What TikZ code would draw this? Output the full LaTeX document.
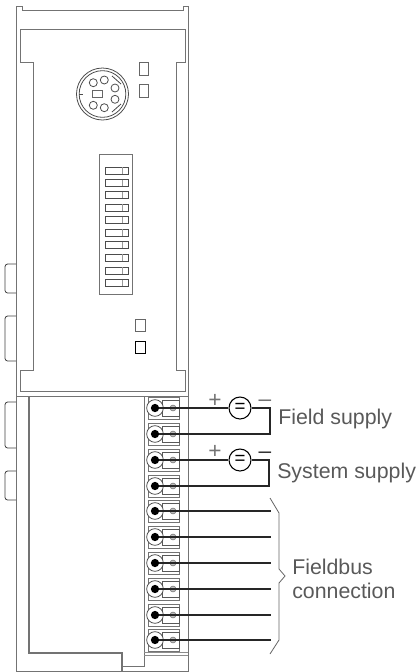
\documentclass[tikz,border=0pt]{standalone}
\usepackage{fontspec}
\setmainfont{Liberation Sans}
\usetikzlibrary{positioning}
\tikzset{
	wall/.style={draw=black!55, line width=0.7pt},
	thinwall/.style={draw=black!45, line width=0.6pt},
	tab/.style={draw=black!75, line width=0.6pt, rounded corners=2pt},
	led/.style={draw=black!60, line width=0.6pt, rectangle, minimum width=7pt, minimum height=9.5pt, inner sep=0pt},
	pin/.style={draw=black!70, line width=0.6pt, circle, minimum size=6pt, inner sep=0pt},
	ring/.style={draw=black!70, line width=0.6pt, circle, minimum size=12.5pt, inner sep=0pt, fill=white},
	hole/.style={fill=black, circle, minimum size=6.2pt, inner sep=0pt},
	screw/.style={draw=black!50, fill=black!25, line width=0.5pt, circle, minimum size=4.4pt, inner sep=0pt},
	supply/.style={draw=black, line width=0.8pt, circle, minimum size=16.5pt, inner sep=0pt, fill=white, font=\fontsize{14}{14}\selectfont},
	wire/.style={draw=black!85, line width=0.8pt},
	sign/.style={inner sep=0pt, text=black!55, font=\fontsize{17}{17}\selectfont},
	label/.style={inner sep=0pt, anchor=west, align=left, text=black!65, font=\fontsize{16}{18.5}\selectfont},
}
\begin{document}
\begin{tikzpicture}[x=0.75pt, y=-0.75pt]
		\useasboundingbox (0, 0) rectangle (418, 672);
		% Housing
		\draw [wall] (16, 671)--(16, 6)--(22, 6)--(22, 10)--(183, 10)--(183, 6)--(188, 6)--(188, 671)--cycle;
		\draw [wall] (16, 396)--(188, 396);
		% Front panel
		\draw [wall] (20, 29)--(185, 29)--(185, 62)--(176, 62)--(176, 370)--(185, 370)--(185, 391)--(20, 391)--(20, 370)--(33, 370)--(33, 62)--(20, 62)--cycle;
		% Side tabs
		\draw [tab] (16, 264)--(5, 264)--(5, 293)--(16, 293);
		\draw [tab] (16, 316)--(5, 316)--(5, 361)--(16, 361);
		\draw [tab] (16, 402)--(5, 402)--(5, 448)--(16, 448);
		\draw [tab] (16, 471)--(5, 471)--(5, 500)--(16, 500);
		% Lower compartment
		\draw [wall] (144, 396)--(144, 666)--(122, 666);
		\draw [wall, line width=1pt] (29, 396)--(29, 653)--(122, 653)--(122, 671);
		\draw [thinwall] (144, 652)--(188, 652);
		\draw [thinwall] (144, 655)--(188, 655);
		% Round connector
		\node [circle, draw=black!70, line width=0.6pt, minimum size=39pt, inner sep=0pt] (socket) at (102.5, 94) {};
		\node [circle, draw=black!70, line width=0.6pt, minimum size=35pt, inner sep=0pt] (socketin) at (102.5, 94) {};
		\draw [draw=black!70, line width=0.6pt] (79, 94)--(83, 94);
		\draw [draw=black!70, line width=0.6pt] (112, 76)--(121, 84);
		\draw [draw=black!70, line width=0.6pt] (112, 112)--(121, 104);
		\node [pin] (pina) at (93.3, 82.7) {};
		\node [pin] (pinb) at (104.3, 80) {};
		\node [pin] (pinc) at (115, 88) {};
		\node [pin] (pind) at (115, 99.3) {};
		\node [pin] (pine) at (104.3, 107.7) {};
		\node [pin] (pinf) at (93.3, 105.3) {};
		\node [led, minimum width=7.5pt, minimum height=5.5pt] (key) at (97.3, 94) {};
		% Status lamps
		\node [led] (ledsa) at (144, 69) {};
		\node [led] (ledsb) at (144, 91) {};
		\node [led] (ledsc) at (140.5, 325.5) {};
		\node [led, draw=black] (ledsd) at (140.5, 347.5) {};
		% Address switch
		\draw [wall] (99, 154) rectangle (132, 294);
		\foreach \y in {170.5, 183, 195, 207.5, 220, 232.5, 245, 257.5, 270.5, 283} {
			\draw [draw=black!70, line width=0.6pt] (105, \y-3.4) rectangle (128, \y+3.4);
			\draw [draw=black!40, line width=0.6pt] (122, \y-3.4)--(122, \y+3.4);
		}
		% Terminals
		\foreach \n/\y in {1/408, 2/434, 3/460, 4/486, 5/511, 6/537, 7/563, 8/589, 9/615, 10/640} {
			\draw [draw=black!55, line width=0.6pt] (148, \y-11) rectangle (179, \y+11);
			\draw [draw=black!65, line width=0.6pt] (162, \y-8) rectangle (179, \y+8);
			\node [ring] (ring\n) at (155, \y) {};
			\node [hole] (hole\n) at (155, \y) {};
			\node [screw] (screw\n) at (173, \y) {};
		}
		% Field supply
		\node [supply] (fieldsrc) at (240, 408) {=};
		\coordinate (fieldup) at (270, 408);
		\coordinate (fielddown) at (270, 434);
		\draw [wire] (hole1)--(fieldsrc);
		\draw [wire] (fieldsrc)--(fieldup)--(fielddown)--(hole2);
		\node [sign] (fieldplus) at (215, 401) {+};
		\node [sign] (fieldminus) at (265, 403) {–};
		\node [label] (fieldtxt) at (278, 419) {Field supply};
		% System supply
		\node [supply] (systemsrc) at (240, 460) {=};
		\coordinate (systemup) at (269, 460);
		\coordinate (systemdown) at (269, 486);
		\draw [wire] (hole3)--(systemsrc);
		\draw [wire] (systemsrc)--(systemup)--(systemdown)--(hole4);
		\node [sign] (systemplus) at (215, 452) {+};
		\node [sign, text=black!80] (systemminus) at (265, 455) {–};
		\node [label] (systemtxt) at (277, 473) {System supply};
		% Fieldbus wires
		\coordinate (busa) at (271, 511);
		\coordinate (busb) at (271, 537);
		\coordinate (busc) at (271, 563);
		\coordinate (busd) at (271, 589);
		\coordinate (buse) at (271, 615);
		\coordinate (busf) at (271, 640);
		\draw [wire] (hole5)--(busa);
		\draw [wire] (hole6)--(busb);
		\draw [wire] (hole7)--(busc);
		\draw [wire] (hole8)--(busd);
		\draw [wire] (hole9)--(buse);
		\draw [wire] (hole10)--(busf);
		% Brace
		\draw [thinwall, draw=black!60] (270, 498)--(279, 513)--(279, 569)--(285, 576)--(279, 583)--(279, 640)--(270, 654);
		\node [label] (bustxt) at (292, 579) {Fieldbus\\connection};
		\end{tikzpicture}
\end{document}
